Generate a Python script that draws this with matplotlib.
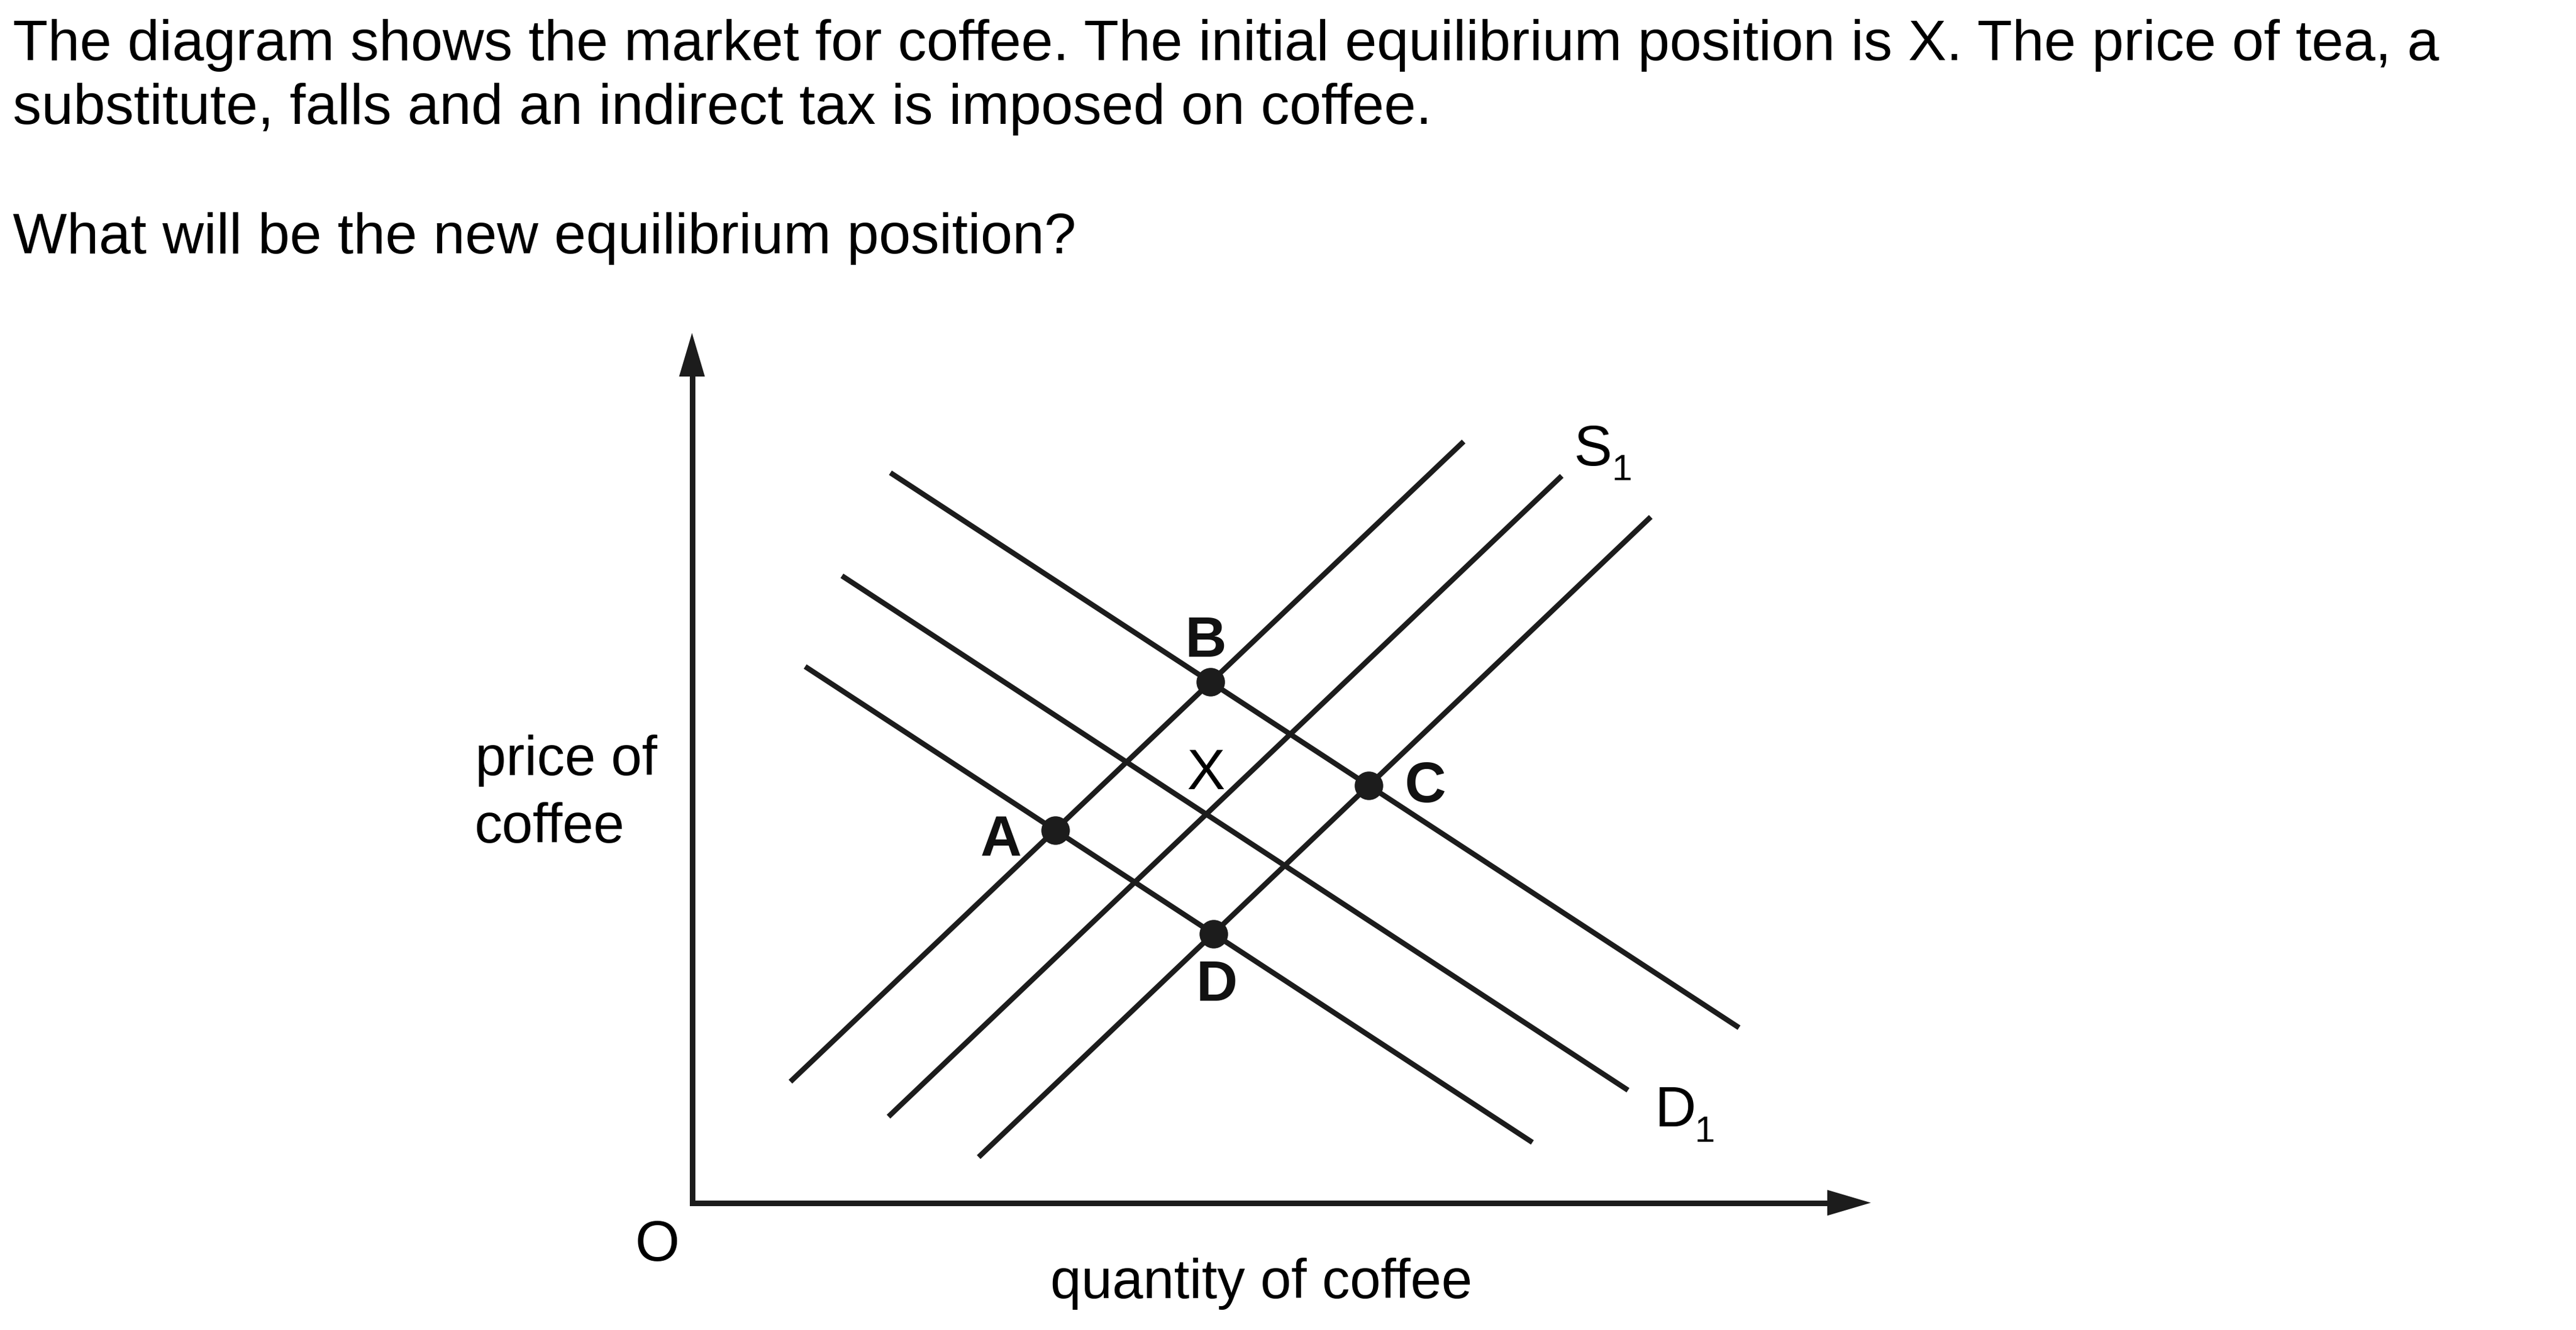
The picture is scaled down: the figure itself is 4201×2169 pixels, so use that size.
import numpy as np
import matplotlib
matplotlib.use("Agg")
import matplotlib.pyplot as plt
from matplotlib.patches import Polygon
from matplotlib.transforms import ScaledTranslation

# ---------------- data (quantity, price) ----------------
# supply curves: [q_start, q_end], [p_start, p_end]
s2_q = [8.35, 65.46]
s2_p = [13.92, 87.52]
s1_q = [16.67, 73.78]
s1_p = [9.90, 83.57]
s3_q = [24.32, 81.33]
s3_p = [5.25, 78.85]
# demand curves
d2_q = [16.83, 88.82]
d2_p = [83.93, 20.13]
d1_q = [12.72, 79.40]
d1_p = [72.08, 12.94]
d3_q = [9.60, 71.29]
d3_p = [61.65, 6.94]

point_names = ["A", "B", "C", "D"]
# (supply, demand) pairs defining each equilibrium point
point_pairs = [("s2", "d3"), ("s2", "d2"), ("s3", "d2"), ("s3", "d3")]

title_lines = [
    "The diagram shows the market for coffee. The initial equilibrium position is X. The price of tea, a",
    "substitute, falls and an indirect tax is imposed on coffee.",
    "What will be the new equilibrium position?",
]
y_label = ["price of", "coffee"]
x_label = "quantity of coffee"
origin_label = "O"

curves = {
    "s1": (s1_q, s1_p), "s2": (s2_q, s2_p), "s3": (s3_q, s3_p),
    "d1": (d1_q, d1_p), "d2": (d2_q, d2_p), "d3": (d3_q, d3_p),
}

def intersect(a, b):
    (qa, pa), (qb, pb) = curves[a], curves[b]
    ma = (pa[1] - pa[0]) / (qa[1] - qa[0])
    mb = (pb[1] - pb[0]) / (qb[1] - qb[0])
    q = (pb[0] - mb * qb[0] - pa[0] + ma * qa[0]) / (ma - mb)
    return q, pa[0] + ma * (q - qa[0])

# ---------------- figure ----------------
W, H = 4201, 2169
DPI = 100
plt.rcParams['font.family'] = ['Liberation Sans', 'DejaVu Sans']
fig = plt.figure(figsize=(W / DPI, H / DPI), dpi=DPI)
fig.patch.set_facecolor("white")

ox, oy = 1128.5, 1961.5          # axis origin (px)
xt, yt = 3051.0, 543.0           # arrow tips (px)
ax = fig.add_axes([ox / W, (H - oy) / H, (xt - ox) / W, (oy - yt) / H])
ax.set_xlim(0, 100)
ax.set_ylim(0, 100)
ax.axis("off")

LC = "#1c1c1c"
# axes
ax.plot([0, 0, 97], [96, 0, 0], color=LC, lw=6.5, solid_joinstyle="miter",
        solid_capstyle="butt", clip_on=False)
hl, hw = 0.71, 0.21  # arrow head length / half width (inches)
tr_y = fig.dpi_scale_trans + ScaledTranslation(0, 100, ax.transData)
ax.add_patch(Polygon([(0, 0), (-hw, -hl), (hw, -hl)], closed=True, transform=tr_y,
                     facecolor=LC, edgecolor="none", clip_on=False))
tr_x = fig.dpi_scale_trans + ScaledTranslation(100, 0, ax.transData)
ax.add_patch(Polygon([(0, 0), (-hl, hw), (-hl, -hw)], closed=True, transform=tr_x,
                     facecolor=LC, edgecolor="none", clip_on=False))

# curves
for key, (q, p) in curves.items():
    ax.plot(q, p, color=LC, lw=6.2, solid_capstyle="butt", clip_on=False)

# equilibrium points
pts = [intersect(s, d) for s, d in point_pairs]
ax.plot([p[0] for p in pts], [p[1] for p in pts], "o", color=LC, ms=33.5,
        mec="none", zorder=5, clip_on=False)

# ---------------- texts ----------------
texts = []
fs = 66
lab_k = 0.97
t1 = fig.text(21 / W, 1 - 98 / H, title_lines[0], ha="left", va="baseline", fontsize=fs)
texts.append((t1, 1.0))
texts.append((fig.text(21 / W, 1 - 202 / H, title_lines[1], ha="left", va="baseline", fontsize=fs), 1.0))
texts.append((fig.text(21 / W, 1 - 413 / H, title_lines[2], ha="left", va="baseline", fontsize=fs), 1.0))
texts.append((fig.text(775 / W, 1 - 1264 / H, y_label[0], ha="left", va="baseline", fontsize=fs), lab_k))
texts.append((fig.text(773 / W, 1 - 1374 / H, y_label[1], ha="left", va="baseline", fontsize=fs), lab_k))
texts.append((fig.text(1072 / W, 1 - 2056 / H, origin_label, ha="center", va="baseline", fontsize=fs), 1.0))
texts.append((fig.text(1713 / W, 1 - 2117 / H, x_label, ha="left", va="baseline", fontsize=fs), lab_k))

# point labels (data coords, baseline)
lab_pos = {"A": (26.2, 39.9), "B": (43.6, 62.8), "C": (62.2, 46.1), "D": (44.5, 23.2)}
for n in point_names:
    q, p = lab_pos[n]
    texts.append((ax.text(q, p, n, ha="center", va="baseline", fontsize=fs,
                          fontweight="bold", color="#111111"), 1.0))
texts.append((ax.text(43.6, 47.55, "X", ha="center", va="baseline", fontsize=fs), 1.0))
texts.append((ax.text(74.82, 84.77, "S", ha="left", va="baseline", fontsize=fs), 1.0))
texts.append((ax.text(78.0, 83.08, "1", ha="left", va="baseline", fontsize=fs), 0.64))
texts.append((ax.text(81.64, 8.78, "D", ha="left", va="baseline", fontsize=fs), 1.0))
texts.append((ax.text(85.02, 7.01, "1", ha="left", va="baseline", fontsize=fs), 0.64))

# fit font size to title width
fig.canvas.draw()
r = fig.canvas.get_renderer()
w = t1.get_window_extent(r).width
size = fs * 3954.0 / w
for t, k in texts:
    t.set_fontsize(size * k)

fig.savefig("out.png", dpi=DPI, facecolor="white")
